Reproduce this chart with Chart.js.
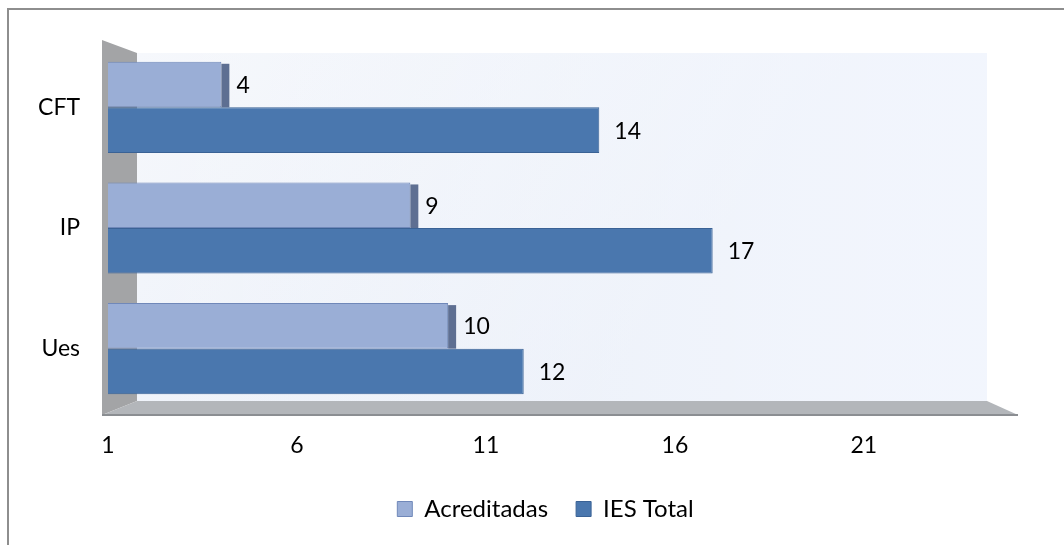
<!DOCTYPE html>
<html>
<head>
<meta charset="utf-8">
<script src="https://cdn.jsdelivr.net/npm/chart.js@4.4.0/dist/chart.umd.min.js"></script>
<style>
  html, body { margin: 0; padding: 0; background: #ffffff; }
  #wrap { position: relative; width: 1064px; height: 545px; }
  canvas { display: block; }
</style>
</head>
<body>
<div id="wrap"><canvas id="c" width="1064" height="545"></canvas></div>
<script>
const categories = ['CFT', 'IP', 'Ues'];
const acreditadas = [4, 9, 10];
const iesTotal = [14, 17, 12];
const xTickValues = [1, 6, 11, 16, 21];
const seriesNames = ['Acreditadas', 'IES Total'];

const FONT = 'Lato, "Open Sans", sans-serif';

const decorPlugin = {
  id: 'decor',
  afterLayout(chart) {
    if (chart.legend) {
      chart.legend.left += 38;
      chart.legend.right += 38;
    }
  },
  beforeDraw(chart) {
    const ctx = chart.ctx;
    ctx.save();
    ctx.fillStyle = '#ffffff';
    ctx.fillRect(0, 0, chart.width, chart.height);
    ctx.strokeStyle = '#8e8e8e';
    ctx.lineWidth = 2;
    ctx.beginPath();
    ctx.moveTo(8, chart.height);
    ctx.lineTo(8, 9);
    ctx.lineTo(chart.width, 9);
    ctx.stroke();
    ctx.restore();
  },
  beforeDatasetsDraw(chart) {
    const ctx = chart.ctx;
    const a = chart.chartArea;
    const bl = a.left + 29, br = a.right - 28, bt = a.top + 6, bb = a.bottom - 8;
    ctx.save();
    // back wall
    const g = ctx.createLinearGradient(bl, bt, br * 0.6, bb);
    g.addColorStop(0, '#f6f8fc');
    g.addColorStop(1, '#e6ecf7');
    ctx.fillStyle = g;
    ctx.fillRect(bl, bt, br - bl, bb - bt);
    const g2 = ctx.createLinearGradient(bl, 0, br, 0);
    g2.addColorStop(0, 'rgba(255,255,255,0)');
    g2.addColorStop(1, 'rgba(245,248,255,0.8)');
    ctx.fillStyle = g2;
    ctx.fillRect(bl, bt, br - bl, bb - bt);
    // left wall
    ctx.fillStyle = '#a3a4a6';
    ctx.beginPath();
    ctx.moveTo(a.left - 6, a.top - 7);
    ctx.lineTo(bl, bt);
    ctx.lineTo(bl, bb);
    ctx.lineTo(a.left - 6, a.bottom + 6);
    ctx.closePath();
    ctx.fill();
    // floor
    ctx.fillStyle = '#b3b6ba';
    ctx.beginPath();
    ctx.moveTo(a.left - 6, a.bottom + 6);
    ctx.lineTo(bl, bb);
    ctx.lineTo(br, bb);
    ctx.lineTo(a.right + 3, a.bottom + 6);
    ctx.closePath();
    ctx.fill();
    ctx.strokeStyle = '#8b8e92';
    ctx.lineWidth = 2;
    ctx.beginPath();
    ctx.moveTo(a.left - 6, a.bottom + 6);
    ctx.lineTo(a.right + 3, a.bottom + 6);
    ctx.stroke();
    ctx.restore();
  },
  afterDatasetsDraw(chart) {
    const ctx = chart.ctx;
    ctx.save();
    // side faces of light bars
    const m0 = chart.getDatasetMeta(0);
    m0.data.forEach((bar) => {
      const h = bar.height;
      ctx.fillStyle = '#5e6f92';
      ctx.fillRect(bar.x, bar.y - h / 2 + 2, 8, h - 2);
    });
    // value labels
    ctx.fillStyle = '#000000';
    ctx.font = '23px ' + FONT;
    ctx.textAlign = 'left';
    ctx.textBaseline = 'middle';
    chart.data.datasets.forEach((ds, di) => {
      const meta = chart.getDatasetMeta(di);
      meta.data.forEach((bar, i) => {
        ctx.fillText(String(ds.data[i]), bar.x + 15, bar.y + 1);
      });
    });
    ctx.restore();
  }
};

new Chart(document.getElementById('c'), {
  type: 'bar',
  data: {
    labels: categories,
    datasets: [
      {
        label: seriesNames[0],
        data: acreditadas,
        base: 1,
        backgroundColor: '#9aaed6',
        borderColor: '#7088b9',
        borderWidth: 1,
        categoryPercentage: 0.755,
        barPercentage: 1.0
      },
      {
        label: seriesNames[1],
        data: iesTotal,
        base: 1,
        backgroundColor: '#4a77ae',
        borderColor: '#3a6295',
        borderWidth: 1,
        categoryPercentage: 0.755,
        barPercentage: 1.0
      }
    ]
  },
  options: {
    indexAxis: 'y',
    responsive: false,
    animation: false,
    events: [],
    layout: { padding: { top: 47, right: 49, bottom: 14, left: 0 } },
    plugins: {
      legend: {
        position: 'bottom',
        labels: {
          font: { family: FONT, size: 24 },
          color: '#000000',
          boxWidth: 15,
          boxHeight: 15,
          padding: 28
        }
      },
      tooltip: { enabled: false }
    },
    scales: {
      x: {
        type: 'linear',
        min: 1,
        max: 25,
        grid: { display: false },
        border: { display: false },
        ticks: {
          stepSize: 5,
          padding: 15,
          color: '#000000',
          font: { family: FONT, size: 23 },
          maxRotation: 0
        },
        afterBuildTicks(scale) {
          scale.ticks = xTickValues.map(v => ({ value: v }));
        },
        afterFit(scale) { scale.height = 60; }
      },
      y: {
        grid: { display: false },
        border: { display: false },
        ticks: {
          padding: 20,
          color: '#000000',
          font: { family: FONT, size: 23 }
        },
        afterFit(scale) { scale.width = 108; }
      }
    }
  },
  plugins: [decorPlugin]
});
</script>
</body>
</html>
